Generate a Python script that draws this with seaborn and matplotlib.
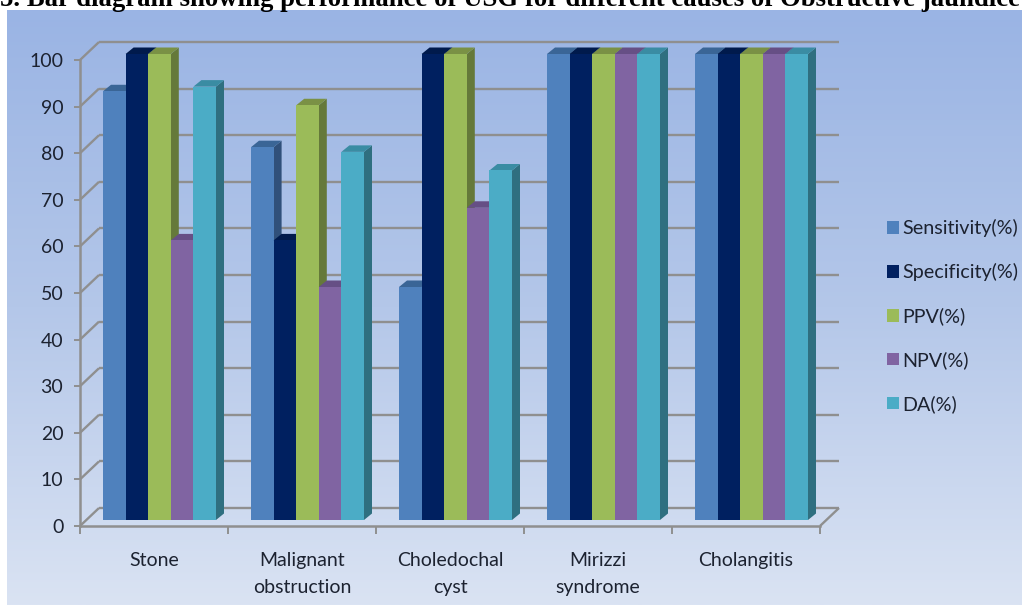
import numpy as np
import pandas as pd
import matplotlib
matplotlib.use("Agg")
import matplotlib.pyplot as plt
from matplotlib.patches import Polygon, Patch
import seaborn as sns

causes = ["Stone", "Malignant\nobstruction", "Choledochal\ncyst", "Mirizzi\nsyndrome", "Cholangitis"]
metrics = ["Sensitivity(%)", "Specificity(%)", "PPV(%)", "NPV(%)", "DA(%)"]
sensitivity = [92, 80, 50, 100, 100]
specificity = [100, 60, 100, 100, 100]
ppv = [100, 89, 100, 100, 100]
npv = [60, 50, 67, 100, 100]
da = [93, 79, 75, 100, 100]
y_ticks = [0, 10, 20, 30, 40, 50, 60, 70, 80, 90, 100]
title = "5. Bar diagram showing performance of USG for different causes of Obstructive jaundice"

front_colors = ["#4f81bd", "#002060", "#9bbb59", "#8064a2", "#4bacc6"]
side_colors = ["#30507a", "#001238", "#65793a", "#564270", "#2f6f80"]
top_colors = ["#3a6596", "#001a4c", "#7a9145", "#664f85", "#3a8ca3"]
axis_color = "#8f8f8f"
text_color = "#1c2230"

rows = []
for name, vals in zip(metrics, [sensitivity, specificity, ppv, npv, da]):
    for cause, v in zip(causes, vals):
        rows.append({"cause": cause, "metric": name, "value": v})
df = pd.DataFrame(rows)

W, H = 1022, 605
sns.set_theme(style="white")
plt.rcParams["font.family"] = ["Lato", "DejaVu Sans"]
fig = plt.figure(figsize=(W / 100, H / 100), dpi=100, facecolor="white")

# Panel with a vertical gradient behind the chart
bg = fig.add_axes([7 / W, 0, (W - 7) / W, (H - 10) / H], zorder=0)
ramp = np.linspace(0, 1, 256).reshape(-1, 1)
cmap = matplotlib.colors.LinearSegmentedColormap.from_list("panel", ["#9ab4e4", "#b4c7e9", "#dae3f3"])
bg.imshow(ramp, aspect="auto", cmap=cmap, extent=(0, 1, 0, 1), origin="upper")
bg.axis("off")

ax = fig.add_axes([80 / W, (H - 526) / H, 740 / W, 466 / H], zorder=1)
ax.patch.set_alpha(0)
sns.barplot(data=df, x="cause", y="value", hue="metric", hue_order=metrics,
            palette=front_colors, width=113 / 148, saturation=1, gap=0,
            legend=False, ax=ax)
ax.set_xlim(-0.5, 4.5)
ax.set_ylim(0, 100)

# Size of one pixel in data units
px_x = 5 / 740
px_y = 100 / 466

# Back wall, side wall and floor lines
wall_dx, wall_dy = 19 * px_x, 18 * px_y
line_kw = dict(color=axis_color, lw=1.7, clip_on=False, zorder=1, solid_capstyle="butt")
for v in y_ticks:
    ax.plot([-0.5, -0.5 + wall_dx], [v, v + wall_dy], **line_kw)
    ax.plot([-0.5 + wall_dx, 4.5 + wall_dx], [v + wall_dy, v + wall_dy], **line_kw)
ax.plot([4.5, 4.5 + wall_dx], [0, wall_dy], **line_kw)

# Lift the bars off the front edge and give each one a side and a top face
lift_x, lift_y = 5.5 * px_x, 6 * px_y
depth_x, depth_y = 8 * px_x, 6.5 * px_y
for i, container in enumerate(ax.containers):
    for bar in container:
        bar.set_x(bar.get_x() + lift_x)
        bar.set_y(lift_y)
        bar.set_clip_on(False)
        bar.set_zorder(3 + i * 3 + 2)
        bar.set_linewidth(0)
        x0, x1 = bar.get_x(), bar.get_x() + bar.get_width()
        y0, y1 = lift_y, lift_y + bar.get_height()
        side = Polygon([(x1, y0), (x1 + depth_x, y0 + depth_y), (x1 + depth_x, y1 + depth_y), (x1, y1)],
                       fc=side_colors[i], lw=0, clip_on=False, zorder=3 + i * 3)
        top = Polygon([(x0, y1), (x0 + depth_x, y1 + depth_y), (x1 + depth_x, y1 + depth_y), (x1, y1)],
                      fc=top_colors[i], lw=0, clip_on=False, zorder=3 + i * 3 + 1)
        ax.add_patch(side)
        ax.add_patch(top)

for s in ["top", "right"]:
    ax.spines[s].set_visible(False)
for s in ["left", "bottom"]:
    ax.spines[s].set_color(axis_color)
    ax.spines[s].set_linewidth(1.8)
    ax.spines[s].set_zorder(2)

ax.set_xlabel("")
ax.set_ylabel("")
ax.set_yticks(y_ticks)
ax.tick_params(axis="y", left=True, length=4, width=1.4, color=axis_color,
               labelsize=14, labelcolor=text_color, pad=8)
ax.tick_params(axis="x", which="major", bottom=False, labelsize=14, labelcolor=text_color, pad=13)
ax.set_xticks(np.arange(-0.5, 5, 1), minor=True)
ax.tick_params(axis="x", which="minor", bottom=True, length=6, width=1.4, color=axis_color)
for label in ax.get_xticklabels():
    label.set_linespacing(1.72)

handles = [Patch(fc=c, lw=0) for c in front_colors]
fig.legend(handles, metrics, loc="center left", bbox_to_anchor=(887 / W, (H - 316) / H),
           frameon=False, fontsize=14.2, labelcolor=text_color, handlelength=0.62, handleheight=0.62,
           handletextpad=0.17, labelspacing=1.32, borderaxespad=0, borderpad=0)

fig.text(0, 1 - 6 / H, title, family="Liberation Serif", weight="bold", fontsize=19.3,
         color="black", ha="left", va="baseline")

fig.savefig("out.png", dpi=100)
